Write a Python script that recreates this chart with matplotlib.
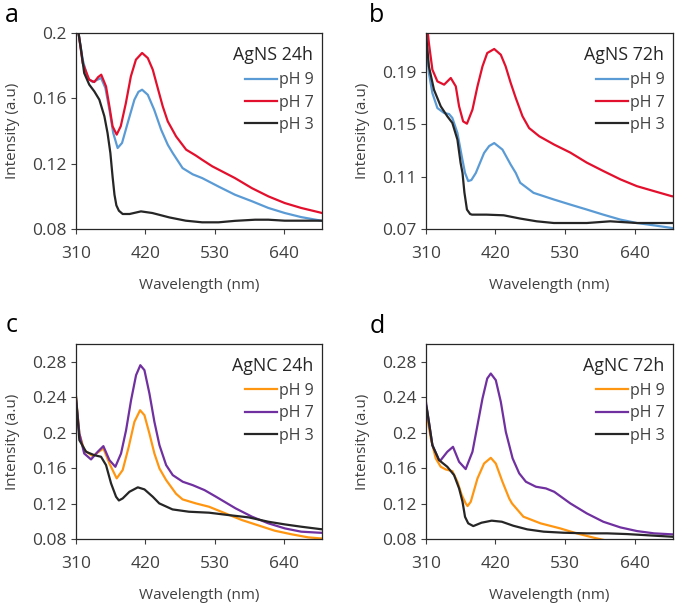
"""
UV-vis spectra of AgNS / AgNC at pH 9, 7 and 3 after 24h and 72h.
Output: out.png
"""

import matplotlib
matplotlib.use("Agg")
import matplotlib.pyplot as plt
from matplotlib.ticker import FuncFormatter

plt.rcParams["font.family"] = ["Open Sans", "DejaVu Sans"]

# ─── Data ─────────────────────────────────────────────────────────────────────

# a: AgNS 24h
a_wl_ph9 = [310, 314, 320.6, 328.5, 336.5, 344, 349.7, 356.6, 363, 369, 376, 383, 392,
            402.6, 409, 414.8, 423.8, 434, 445, 455.5, 463.4, 479, 495, 510, 536, 562,
            589, 615, 641, 667, 696, 700]
a_ph9 = [0.215, 0.200, 0.1837, 0.1725, 0.170, 0.1714, 0.1725, 0.1663, 0.153, 0.1388,
         0.1296, 0.1327, 0.145, 0.1592, 0.164, 0.1653, 0.1622, 0.153, 0.1408, 0.1316,
         0.1265, 0.1173, 0.1135, 0.1112, 0.106, 0.101, 0.097, 0.0929, 0.0898, 0.0873,
         0.0853, 0.085]
a_wl_ph7 = [310, 314, 320.6, 331, 339, 345, 350, 357.6, 363, 368, 374.5, 381, 389, 397,
            405, 414.8, 423.8, 431.7, 439.6, 447.6, 455.5, 468.7, 484.6, 500, 510, 526,
            562, 589, 615, 641, 667, 696, 700]
a_ph7 = [0.22, 0.200, 0.1816, 0.1714, 0.170, 0.173, 0.1745, 0.1673, 0.155, 0.1429,
         0.1378, 0.143, 0.157, 0.1735, 0.1837, 0.1878, 0.1847, 0.1776, 0.1663, 0.155,
         0.1459, 0.1367, 0.1286, 0.125, 0.1224, 0.1184, 0.1112, 0.105, 0.100, 0.0959,
         0.0929, 0.0902, 0.0898]
a_wl_ph3 = [310, 314, 318, 323, 331, 339, 347, 355, 360, 364.5, 368, 371, 374, 378, 384,
            395, 413, 431, 458, 484, 510, 536, 562, 594, 615, 641, 700]
a_ph3 = [0.22, 0.200, 0.1898, 0.1755, 0.1684, 0.1643, 0.1592, 0.149, 0.1388, 0.1265,
         0.112, 0.101, 0.0945, 0.0912, 0.0892, 0.0892, 0.0908, 0.0898, 0.0871, 0.0851,
         0.0841, 0.0841, 0.085, 0.0857, 0.0857, 0.0851, 0.0851]

# b: AgNS 72h
b_wl_ph9 = [310, 315, 320.5, 328.4, 339, 346.8, 352, 360, 366.8, 372, 377, 382, 389, 402,
            410, 418, 431, 444, 452, 459, 480, 512, 538, 564, 590, 617, 643, 670, 698, 700]
b_ph9 = [0.222, 0.1894, 0.174, 0.1626, 0.1588, 0.158, 0.155, 0.1435, 0.1257, 0.1129,
         0.1067, 0.1075, 0.1129, 0.1282, 0.1335, 0.1358, 0.1308, 0.1193, 0.1129, 0.1054,
         0.0977, 0.0926, 0.0887, 0.0849, 0.081, 0.0772, 0.0746, 0.0728, 0.0708, 0.0706]
b_wl_ph7 = [310, 315, 320.5, 328.4, 339, 349.5, 357.4, 362.6, 369, 375, 383.7, 391.6,
            399.5, 407, 418, 428.4, 436, 444, 452, 462.6, 473, 489, 512.6, 538, 564, 590,
            617, 643, 670, 698, 700]
b_ph7 = [0.235, 0.2123, 0.192, 0.183, 0.1805, 0.1856, 0.1792, 0.1639, 0.1524, 0.1506,
         0.1614, 0.1792, 0.1945, 0.2047, 0.2078, 0.2034, 0.1945, 0.1818, 0.1703, 0.1563,
         0.1473, 0.141, 0.1346, 0.1285, 0.1208, 0.1144, 0.108, 0.1028, 0.099, 0.0951,
         0.095]
b_wl_ph3 = [310, 315, 323, 333.7, 344, 352, 360, 365, 368, 371, 375, 380, 383, 406, 433,
            459, 485, 512, 564, 601, 643, 698, 700]
b_ph3 = [0.222, 0.1945, 0.1766, 0.1639, 0.1563, 0.1512, 0.1384, 0.1206, 0.1129, 0.098,
         0.0849, 0.0815, 0.081, 0.081, 0.0805, 0.078, 0.0759, 0.0746, 0.0746, 0.0759,
         0.0746, 0.0746, 0.0746]

# c: AgNC 24h
c_wl_ph9 = [310, 315.3, 323, 336.5, 346, 353.4, 363, 374.5, 384, 393.6, 402.6, 411.6,
            418.5, 426.4, 434.3, 442.3, 452.9, 468.7, 479, 500, 521, 547, 573, 599, 625,
            652, 678, 696, 700]
c_ph9 = [0.2404, 0.1991, 0.1803, 0.1735, 0.1784, 0.1822, 0.1652, 0.1484, 0.1578, 0.184,
         0.2122, 0.2253, 0.2197, 0.199, 0.1765, 0.1596, 0.1465, 0.131, 0.1247, 0.1202,
         0.1164, 0.1089, 0.1014, 0.0954, 0.0894, 0.0853, 0.0819, 0.0808, 0.0806]
c_wl_ph7 = [310, 315.3, 323, 333.8, 344.4, 353.4, 363, 372.4, 381.4, 389.4, 397.3, 405.2,
            412, 418.5, 426.4, 434.3, 442.3, 452.9, 463.4, 479.3, 495, 513.7, 532, 563,
            589, 615, 641, 667, 696, 700]
c_ph7 = [0.2385, 0.1991, 0.1765, 0.1698, 0.1784, 0.1848, 0.169, 0.1615, 0.1765, 0.2028,
         0.2366, 0.2648, 0.2761, 0.2705, 0.2442, 0.2122, 0.1859, 0.1634, 0.1521, 0.1446,
         0.1408, 0.1352, 0.1277, 0.1146, 0.1052, 0.0977, 0.092, 0.0883, 0.0871, 0.087]
c_wl_ph3 = [310, 315.3, 326, 339, 349.7, 357.6, 365.6, 373.5, 378, 384, 394.7, 408, 418.5,
            431.7, 442, 463, 489, 521, 552, 584, 615, 641, 667, 696, 700]
c_ph3 = [0.2404, 0.1916, 0.1784, 0.1746, 0.1728, 0.1634, 0.1427, 0.1277, 0.1235, 0.1258,
         0.1333, 0.1383, 0.136, 0.1277, 0.1202, 0.1134, 0.1108, 0.1097, 0.107, 0.1044,
         0.0995, 0.0965, 0.0939, 0.0913, 0.091]

# d: AgNC 72h
d_wl_ph9 = [310, 312.6, 318, 325.8, 333.7, 341.6, 352, 360, 366.8, 373, 376, 381, 391.6,
            402, 412.6, 420.5, 431, 441.6, 446, 464, 491, 522, 548, 575, 591, 617, 650, 700]
d_ph9 = [0.229, 0.216, 0.1934, 0.1709, 0.1615, 0.1585, 0.1566, 0.1446, 0.1296, 0.1202,
         0.1172, 0.122, 0.1483, 0.1652, 0.1716, 0.1652, 0.1446, 0.1258, 0.1202, 0.1052,
         0.0977, 0.092, 0.0864, 0.0815, 0.0789, 0.076, 0.073, 0.068]
d_wl_ph7 = [310, 312.6, 320.5, 331, 333.7, 344, 353, 362.6, 373, 383.7, 391.6, 399.5, 407,
            412.6, 420.5, 428.4, 436.3, 447, 457.4, 468, 483.7, 499.5, 512.6, 538, 564,
            590, 617, 643, 670, 698, 700]
d_ph7 = [0.2366, 0.2235, 0.1859, 0.169, 0.169, 0.1784, 0.184, 0.1671, 0.1589, 0.1784,
         0.2084, 0.2385, 0.2611, 0.2667, 0.2592, 0.2348, 0.2009, 0.171, 0.1541, 0.1446,
         0.139, 0.1371, 0.1333, 0.1202, 0.1089, 0.0995, 0.0931, 0.089, 0.0864, 0.0853,
         0.0852]
d_wl_ph3 = [310, 312.6, 320.5, 331, 344, 354.7, 362.6, 368, 372, 377, 385, 398, 414, 430,
            448, 470, 496, 527, 564, 596, 627, 670, 698, 700]
d_ph3 = [0.2329, 0.2235, 0.1859, 0.169, 0.1615, 0.1521, 0.1371, 0.1221, 0.105, 0.0977,
         0.0946, 0.0984, 0.1007, 0.0995, 0.095, 0.0909, 0.0883, 0.0871, 0.0864, 0.0864,
         0.0856, 0.0838, 0.0826, 0.0825]

x_ticks = [310, 420, 530, 640]
labels = ["pH 9", "pH 7", "pH 3"]

# ─── Styles ───────────────────────────────────────────────────────────────────

NS_COLORS = ["#5B9BD5", "#E3102D", "#262626"]
NC_COLORS = ["#FF9612", "#7030A0", "#262626"]
TEXT_COLOR = "#404040"

panels = [
    # letter, title, series, colours, ylim, yticks, axes rect, letter pos (px)
    ("a", "AgNS 24h", [(a_wl_ph9, a_ph9), (a_wl_ph7, a_ph7), (a_wl_ph3, a_ph3)],
     NS_COLORS, (0.08, 0.2), [0.08, 0.12, 0.16, 0.2],
     [0.1126, 0.6202, 0.3644, 0.3250], (5, 22)),
    ("b", "AgNS 72h", [(b_wl_ph9, b_ph9), (b_wl_ph7, b_ph7), (b_wl_ph3, b_ph3)],
     NS_COLORS, (0.07, 0.22), [0.07, 0.11, 0.15, 0.19],
     [0.6307, 0.6202, 0.3664, 0.3250], (369, 22)),
    ("c", "AgNC 24h", [(c_wl_ph9, c_ph9), (c_wl_ph7, c_ph7), (c_wl_ph3, c_ph3)],
     NC_COLORS, (0.08, 0.30), [0.08, 0.12, 0.16, 0.2, 0.24, 0.28],
     [0.1126, 0.1061, 0.3644, 0.3234], (6, 332)),
    ("d", "AgNC 72h", [(d_wl_ph9, d_ph9), (d_wl_ph7, d_ph7), (d_wl_ph3, d_ph3)],
     NC_COLORS, (0.08, 0.30), [0.08, 0.12, 0.16, 0.2, 0.24, 0.28],
     [0.6307, 0.1061, 0.3664, 0.3234], (370, 333)),
]

# ─── Plot ─────────────────────────────────────────────────────────────────────

W, H = 675, 603
fig = plt.figure(figsize=(W / 100, H / 100), dpi=100)
fig.patch.set_facecolor("white")

for letter, title, series, colors, ylim, yticks, rect, lpos in panels:
    ax = fig.add_axes(rect)

    for (wl, vals), color, lab in zip(series, colors, labels):
        ax.plot(wl, vals, color=color, linewidth=1.6, label=lab,
                solid_joinstyle="round")

    ax.set_xlim(310, 700)
    ax.set_ylim(*ylim)
    ax.set_xticks(x_ticks)
    ax.set_yticks(yticks)
    ax.yaxis.set_major_formatter(FuncFormatter(lambda v, p: f"{v:g}"))
    ax.tick_params(labelsize=12.5, colors=TEXT_COLOR, length=3.5, width=0.8,
                   labelcolor=TEXT_COLOR)
    ax.tick_params(axis="x", pad=9)
    ax.tick_params(axis="y", pad=3)
    for spine in ax.spines.values():
        spine.set_edgecolor("#262626")
        spine.set_linewidth(0.9)

    ax.set_xlabel("Wavelength (nm)", fontsize=11, color=TEXT_COLOR, labelpad=11)
    ax.set_ylabel("Intensity (a.u)", fontsize=11, color=TEXT_COLOR, labelpad=9)

    leg = ax.legend(title=title, loc="upper right", bbox_to_anchor=(0.965, 0.935),
                    frameon=False, fontsize=11.5, title_fontsize=12.8,
                    handlelength=2.0, handletextpad=0.1, labelspacing=0.4,
                    alignment="right", borderaxespad=0, borderpad=0)
    leg._legend_box.sep = 6
    leg.get_title().set_color("#262626")
    for txt in leg.get_texts():
        txt.set_color(TEXT_COLOR)

    # panel letter
    fig.text(lpos[0] / W, 1 - lpos[1] / H, letter, fontsize=18, color="black",
             va="baseline", ha="left")

plt.savefig("out.png", dpi=100, facecolor="white")
